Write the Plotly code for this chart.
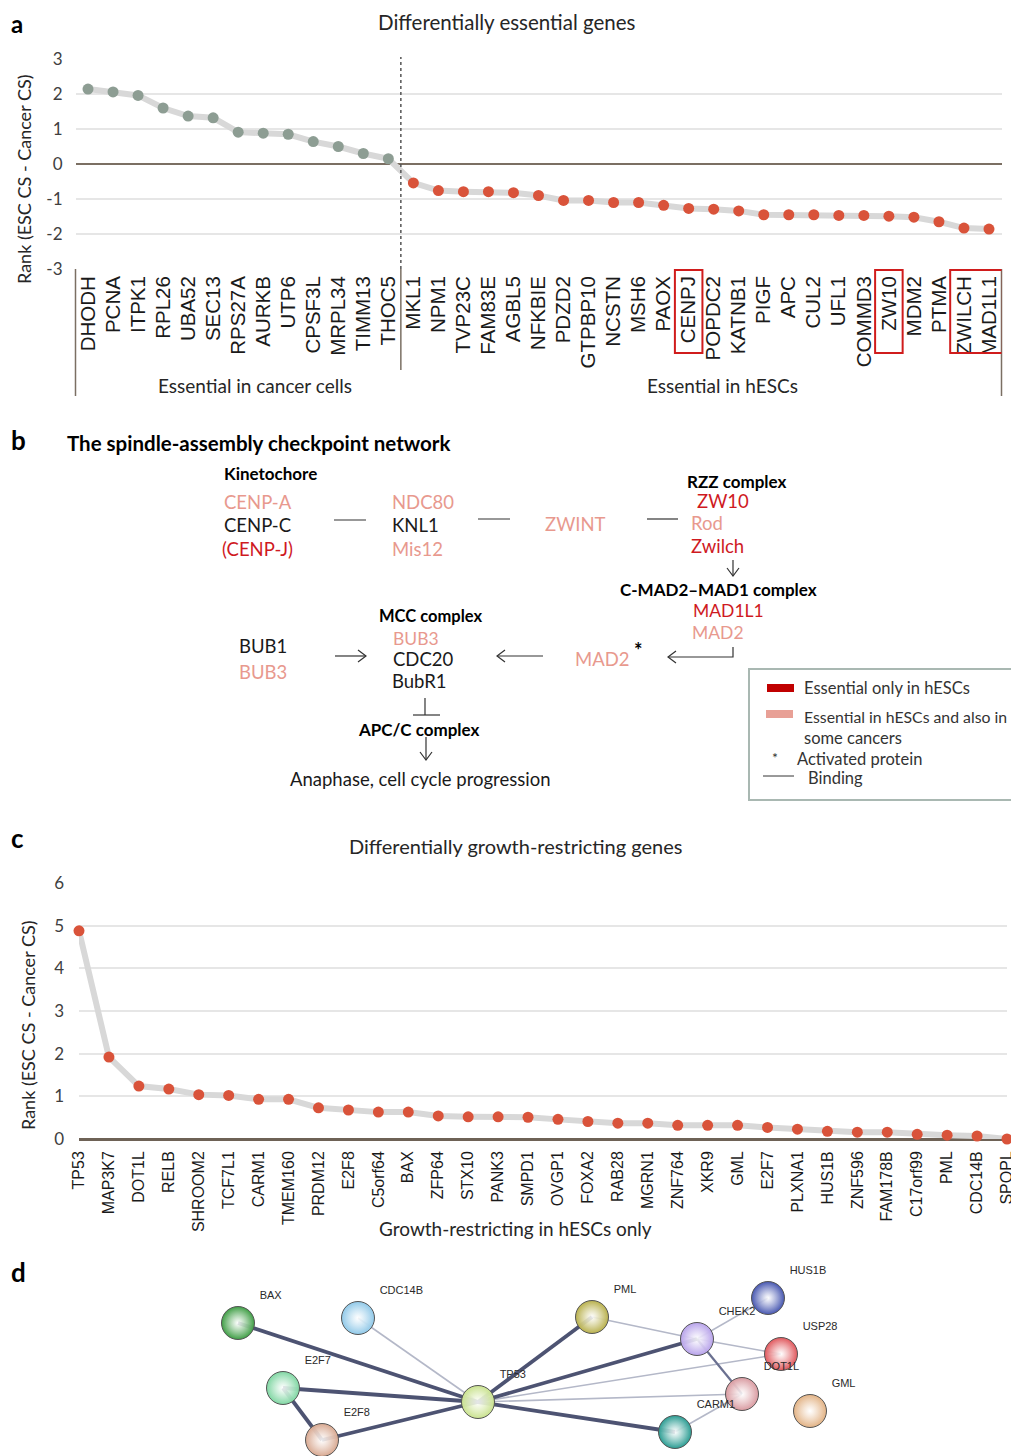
import plotly.graph_objects as go

PAGE_W, PAGE_H = 1019, 1456
OFF = 8                      # default body margin of the html page
W, H = PAGE_W - OFF, PAGE_H - OFF

# ---------------- Panel a data ----------------
genes_cancer = ["DHODH", "PCNA", "ITPK1", "RPL26", "UBA52", "SEC13", "RPS27A", "AURKB",
                "UTP6", "CPSF3L", "MRPL34", "TIMM13", "THOC5"]
rank_cancer = [2.14, 2.06, 1.96, 1.60, 1.37, 1.32, 0.91, 0.88, 0.85, 0.64, 0.50, 0.30, 0.15]
genes_hesc = ["MKL1", "NPM1", "TVP23C", "FAM83E", "AGBL5", "NFKBIE", "PDZD2", "GTPBP10",
              "NCSTN", "MSH6", "PAOX", "CENPJ", "POPDC2", "KATNB1", "PIGF", "APC", "CUL2",
              "UFL1", "COMMD3", "ZW10", "MDM2", "PTMA", "ZWILCH", "MAD1L1"]
rank_hesc = [-0.54, -0.76, -0.79, -0.79, -0.82, -0.90, -1.04, -1.04, -1.10, -1.10, -1.18,
             -1.27, -1.29, -1.34, -1.45, -1.45, -1.45, -1.47, -1.47, -1.49, -1.52, -1.65,
             -1.83, -1.86]
boxed_groups_a = [["CENPJ"], ["ZW10"], ["ZWILCH", "MAD1L1"]]
yticks_a = [-3, -2, -1, 0, 1, 2, 3]
yticklabels_a = ["-3", "-2", "-1", "0", "1", "2", "3"]

# ---------------- Panel c data ----------------
genes_c = ["TP53", "MAP3K7", "DOT1L", "RELB", "SHROOM2", "TCF7L1", "CARM1", "TMEM160",
           "PRDM12", "E2F8", "C5orf64", "BAX", "ZFP64", "STX10", "PANK3", "SMPD1", "OVGP1",
           "FOXA2", "RAB28", "MGRN1", "ZNF764", "XKR9", "GML", "E2F7", "PLXNA1", "HUS1B",
           "ZNF596", "FAM178B", "C17orf99", "PML", "CDC14B", "SPOPL"]
rank_c = [4.88, 1.92, 1.24, 1.17, 1.04, 1.02, 0.93, 0.93, 0.73, 0.68, 0.63, 0.63, 0.54,
          0.52, 0.52, 0.51, 0.46, 0.41, 0.37, 0.37, 0.32, 0.32, 0.32, 0.27, 0.23, 0.18,
          0.16, 0.16, 0.11, 0.09, 0.07, 0.00]
yticks_c = [0, 1, 2, 3, 4, 5, 6]

# ---------------- Panel d data (STRING network layout, page pixels) ----------------
net_nodes = ["BAX", "CDC14B", "PML", "HUS1B", "CHEK2", "USP28", "E2F7", "TP53", "DOT1L",
             "GML", "CARM1", "E2F8"]
net_x = [238, 358, 592, 768, 697, 781, 283, 478, 742, 810, 675, 322]
net_y = [1323, 1318, 1317, 1298, 1339, 1354, 1388, 1402, 1394, 1411, 1432, 1440]
net_colors = ["#3f9e45", "#8fc8e8", "#b8b04c", "#4656b0", "#b7a2ea", "#e0575c", "#7fd6a2",
              "#c9e28e", "#d99aa0", "#e2b284", "#2a9c92", "#d8a890"]
edges_strong = [("TP53", "BAX"), ("TP53", "E2F7"), ("TP53", "E2F8"), ("TP53", "PML"),
                ("TP53", "CHEK2"), ("TP53", "CARM1"), ("E2F7", "E2F8")]
edges_medium = [("CHEK2", "DOT1L")]
edges_weak = [("TP53", "CDC14B"), ("TP53", "USP28"), ("TP53", "DOT1L"), ("PML", "CHEK2"),
              ("CHEK2", "USP28"), ("CHEK2", "HUS1B"), ("DOT1L", "CARM1")]

# ---------------- styling ----------------
GREY_PT = "#8d9d93"
RED_PT = "#d9533a"
LINE_C = "#d8d8d8"
PINK = "#e8998e"
RED = "#cf1a1f"
BLACK = "#1a1a1a"
TXT_FONT = "Lato, Open Sans, sans-serif"
GENE_FONT = "Liberation Sans, Arial, sans-serif"


def P(x, y):
    """page pixel -> paper fraction"""
    return (x - OFF) / W, 1 - (y - OFF) / H


fig = go.Figure()

# Panel a
genes_a = genes_cancer + genes_hesc
rank_a = rank_cancer + rank_hesc
fig.add_trace(go.Scatter(x=genes_a, y=rank_a, mode="lines",
                         line=dict(color=LINE_C, width=6), xaxis="x", yaxis="y",
                         hoverinfo="skip", showlegend=False))
fig.add_trace(go.Scatter(x=genes_cancer, y=rank_cancer, mode="markers",
                         marker=dict(color=GREY_PT, size=11), xaxis="x", yaxis="y",
                         showlegend=False, cliponaxis=False))
fig.add_trace(go.Scatter(x=genes_hesc, y=rank_hesc, mode="markers",
                         marker=dict(color=RED_PT, size=11), xaxis="x", yaxis="y",
                         showlegend=False, cliponaxis=False))

# Panel c
fig.add_trace(go.Scatter(x=genes_c, y=rank_c, mode="lines",
                         line=dict(color=LINE_C, width=6), xaxis="x2", yaxis="y2",
                         hoverinfo="skip", showlegend=False, cliponaxis=False))
fig.add_trace(go.Scatter(x=genes_c, y=rank_c, mode="markers",
                         marker=dict(color=RED_PT, size=11), xaxis="x2", yaxis="y2",
                         showlegend=False, cliponaxis=False))

# Panel d network
idx = {n: i for i, n in enumerate(net_nodes)}


def edge_xy(edges):
    xs, ys = [], []
    for a, b in edges:
        xs += [net_x[idx[a]], net_x[idx[b]], None]
        ys += [net_y[idx[a]], net_y[idx[b]], None]
    return xs, ys


for edges, col, wid in [(edges_weak, "#b4b8c8", 1.6), (edges_medium, "#6a7090", 2.2),
                        (edges_strong, "#4d5372", 3.8)]:
    ex, ey = edge_xy(edges)
    fig.add_trace(go.Scatter(x=ex, y=ey, mode="lines", line=dict(color=col, width=wid),
                             xaxis="x3", yaxis="y3", hoverinfo="skip", showlegend=False))

fig.add_trace(go.Scatter(
    x=net_x, y=net_y, mode="markers+text", text=net_nodes, textposition="top right",
    textfont=dict(family="Liberation Sans Narrow, Liberation Sans, sans-serif", size=11,
                  color="#2a2a2a"),
    marker=dict(size=33, color=net_colors, line=dict(color="#555555", width=1),
                gradient=dict(type="radial", color="rgba(255,255,255,0.85)")),
    xaxis="x3", yaxis="y3", showlegend=False, cliponaxis=False))

# ---------------- axes ----------------
xa0, ya_top = P(75.5, 59)
xa1, ya_bot = P(1001.5, 269)
xc0, yc_top = P(79, 883)
xc1, yc_bot = P(1007, 1139)
xd0, yd_top = P(OFF, 1250)
xd1, yd_bot = P(PAGE_W, PAGE_H)

fig.update_layout(
    template="none",
    width=W, height=H, margin=dict(l=0, r=0, t=0, b=0, autoexpand=False),
    paper_bgcolor="white", plot_bgcolor="white",
    xaxis=dict(domain=[xa0, xa1], anchor="y", type="category", range=[-0.5, 36.5],
               tickangle=-90, tickfont=dict(family=GENE_FONT, size=20.5, color=BLACK),
               showgrid=False, showline=False, zeroline=False, ticks="",
               ticklabelstandoff=2, automargin=False),
    yaxis=dict(domain=[ya_bot, ya_top], anchor="x", range=[-3, 3], tickvals=yticks_a,
               ticktext=yticklabels_a,
               gridcolor="#e6e6e6", gridwidth=1.5, zeroline=True, zerolinecolor="#7b6f63",
               zerolinewidth=2, showline=False, ticks="",
               tickfont=dict(family=TXT_FONT, size=17, color="#404040"),
               ticklabelstandoff=12, automargin=False),
    xaxis2=dict(domain=[xc0, xc1], anchor="y2", type="category", range=[0, 31],
                tickangle=-90, tickfont=dict(family=GENE_FONT, size=16, color=BLACK),
                showgrid=False, showline=False, zeroline=False, ticks="",
                ticklabelstandoff=8, automargin=False),
    yaxis2=dict(domain=[yc_bot, yc_top], anchor="x2", range=[0, 6], tickvals=yticks_c,
                gridcolor="#e6e6e6", gridwidth=1.5, zeroline=True, zerolinecolor="#6e6256",
                zerolinewidth=2.5, showline=False, ticks="",
                tickfont=dict(family=TXT_FONT, size=17, color="#404040"),
                ticklabelstandoff=14, automargin=False),
    xaxis3=dict(domain=[max(xd0, 0), min(xd1, 1)], anchor="y3", range=[OFF, PAGE_W],
                visible=False, automargin=False),
    yaxis3=dict(domain=[max(yd_bot, 0), yd_top], anchor="x3", range=[PAGE_H, 1250],
                visible=False, automargin=False),
)

# ---------------- annotations ----------------
ann = []


def text(t, x, y, size=18, color=BLACK, bold=False, xanchor="left", font=TXT_FONT,
         angle=0):
    px_, py_ = P(x, y)
    s = f"<b>{t}</b>" if bold else t
    ann.append(dict(text=s, x=px_, y=py_, xref="paper", yref="paper", showarrow=False,
                    xanchor=xanchor, yanchor="middle", textangle=angle,
                    font=dict(family=font, size=size, color=color)))


# panel letters
text("a", 9, 24, 24, "#000", True)
text("b", 9, 440, 26, "#000", True)
text("c", 9, 838, 26, "#000", True)
text("d", 9, 1272, 26, "#000", True)

# panel a texts
text("Differentially essential genes", 507, 22, 20.5, "#262626", xanchor="center")
text("Rank (ESC CS - Cancer CS)", 24, 179, 18, "#262626", xanchor="center", angle=-90)
text("Essential in cancer cells", 255, 386, 19, "#262626", xanchor="center")
text("Essential in hESCs", 722, 386, 19, "#262626", xanchor="center")

# panel c texts
text("Differentially growth-restricting genes", 515, 846, 20, "#262626", xanchor="center")
text("Rank (ESC CS - Cancer CS)", 28, 1025, 18, "#262626", xanchor="center", angle=-90)
text("Growth-restricting in hESCs only", 515, 1228, 19, "#262626", xanchor="center")

# panel b texts
text("The spindle-assembly checkpoint network", 65, 443, 20.5, "#000", True)
text("Kinetochore", 222, 473, 17, "#000", True)
text("CENP-A", 222, 502, 18.5, PINK)
text("CENP-C", 222, 525, 18.5, BLACK)
text("(CENP-J)", 220, 549, 18.5, RED)
text("NDC80", 390, 502, 18.5, PINK)
text("KNL1", 390, 525, 18.5, BLACK)
text("Mis12", 390, 549, 18.5, PINK)
text("ZWINT", 543, 524, 18.5, PINK)
text("RZZ complex", 685, 481, 17, "#000", True)
text("ZW10", 695, 501, 18.5, RED)
text("Rod", 689, 523, 18.5, PINK)
text("Zwilch", 689, 546, 18.5, RED)
text("C-MAD2\u2013MAD1 complex", 618, 589, 17, "#000", True)
text("MAD1L1", 691, 610, 17.5, RED)
text("MAD2", 690, 632, 17.5, PINK)
text("MAD2", 573, 659, 18.5, PINK)
text("*", 632, 650, 20, "#000", True)
text("MCC complex", 377, 616, 16.5, "#000", True)
text("BUB3", 391, 638, 17.5, PINK)
text("CDC20", 391, 659, 18.5, BLACK)
text("BubR1", 390, 681, 18.5, BLACK)
text("BUB1", 237, 646, 18.5, BLACK)
text("BUB3", 237, 672, 18.5, PINK)
text("APC/C complex", 356, 730, 17, "#000", True)
text("Anaphase, cell cycle progression", 288, 779, 18.5, BLACK)

# legend texts
text("Essential only in hESCs", 802, 688, 16.5, "#333")
text("Essential in hESCs and also in", 802, 717, 15.8, "#333")
text("some cancers", 802, 738, 16.5, "#333")
text("*", 770, 757, 14, "#333")
text("Activated protein", 795, 759, 16.5, "#333")
text("Binding", 806, 778, 16.5, "#333")

fig.update_layout(annotations=ann)

# ---------------- shapes ----------------
shapes = []


def pline(pts, color="#333", width=1.2, dash="solid"):
    path = ""
    for i, (x, y) in enumerate(pts):
        px_, py_ = P(x, y)
        path += ("M" if i == 0 else " L") + f" {px_:.5f} {py_:.5f}"
    shapes.append(dict(type="path", path=path, xref="paper", yref="paper",
                       line=dict(color=color, width=width, dash=dash)))


def prect(x0, y0, x1, y1, fill=None, line=None, lw=0):
    a0, b0 = P(x0, y0)
    a1, b1 = P(x1, y1)
    shapes.append(dict(type="rect", x0=a0, y0=b1, x1=a1, y1=b0, xref="paper", yref="paper",
                       fillcolor=fill if fill else "rgba(0,0,0,0)",
                       line=dict(color=line if line else "rgba(0,0,0,0)", width=lw)))


# panel a: divider & brackets
sep = len(genes_cancer) - 0.5
shapes.append(dict(type="line", xref="x", yref="paper", x0=sep, x1=sep,
                   y0=ya_bot, y1=P(0, 57)[1], line=dict(color="#555", width=1.5, dash="dot")))
shapes.append(dict(type="line", xref="x", yref="paper", x0=sep, x1=sep,
                   y0=P(0, 370)[1], y1=ya_bot, line=dict(color="#7b6f63", width=1.5)))
for xd in (0, 1):
    shapes.append(dict(type="line", xref="x domain", yref="paper", x0=xd, x1=xd,
                       y0=P(0, 396)[1], y1=ya_bot, line=dict(color="#7b6f63", width=1.5)))
# red boxes around tick labels
for grp in boxed_groups_a:
    i0 = genes_a.index(grp[0])
    i1 = genes_a.index(grp[-1])
    shapes.append(dict(type="rect", xref="x", yref="paper", x0=i0 - 0.55, x1=i1 + 0.55,
                       y0=P(0, 353)[1], y1=P(0, 270)[1],
                       line=dict(color="#d01c1c", width=2)))

# panel b: binding lines
pline([(334, 520), (366, 520)])
pline([(478, 519), (510, 519)])
pline([(647, 519), (678, 519)])
# arrow Zwilch -> C-MAD2
pline([(733, 560), (733, 576)])
pline([(727, 568), (733, 576), (739, 568)])
# L arrow MAD2 -> MAD2*
pline([(733, 647), (733, 657), (668, 657)])
pline([(676, 651), (668, 657), (676, 663)])
# MAD2* -> MCC
pline([(543, 656), (497, 656)])
pline([(505, 650), (497, 656), (505, 662)])
# BUB1/BUB3 -> MCC
pline([(335, 656), (366, 656)])
pline([(358, 650), (366, 656), (358, 662)])
# inhibition
pline([(425, 698), (425, 715)])
pline([(413, 715), (440, 715)])
# APC/C -> anaphase
pline([(426, 737), (426, 760)])
pline([(420, 752), (426, 760), (432, 752)])

# legend box
prect(749, 669, 1030, 800, line="#a9b8b2", lw=2)
prect(767, 684, 794, 692, fill="#c00000")
prect(766, 710, 793, 718, fill="#e8a096")
pline([(763, 776), (794, 776)], color="#555", width=1.2)

fig.update_layout(shapes=shapes)

fig.write_html("out.html")
